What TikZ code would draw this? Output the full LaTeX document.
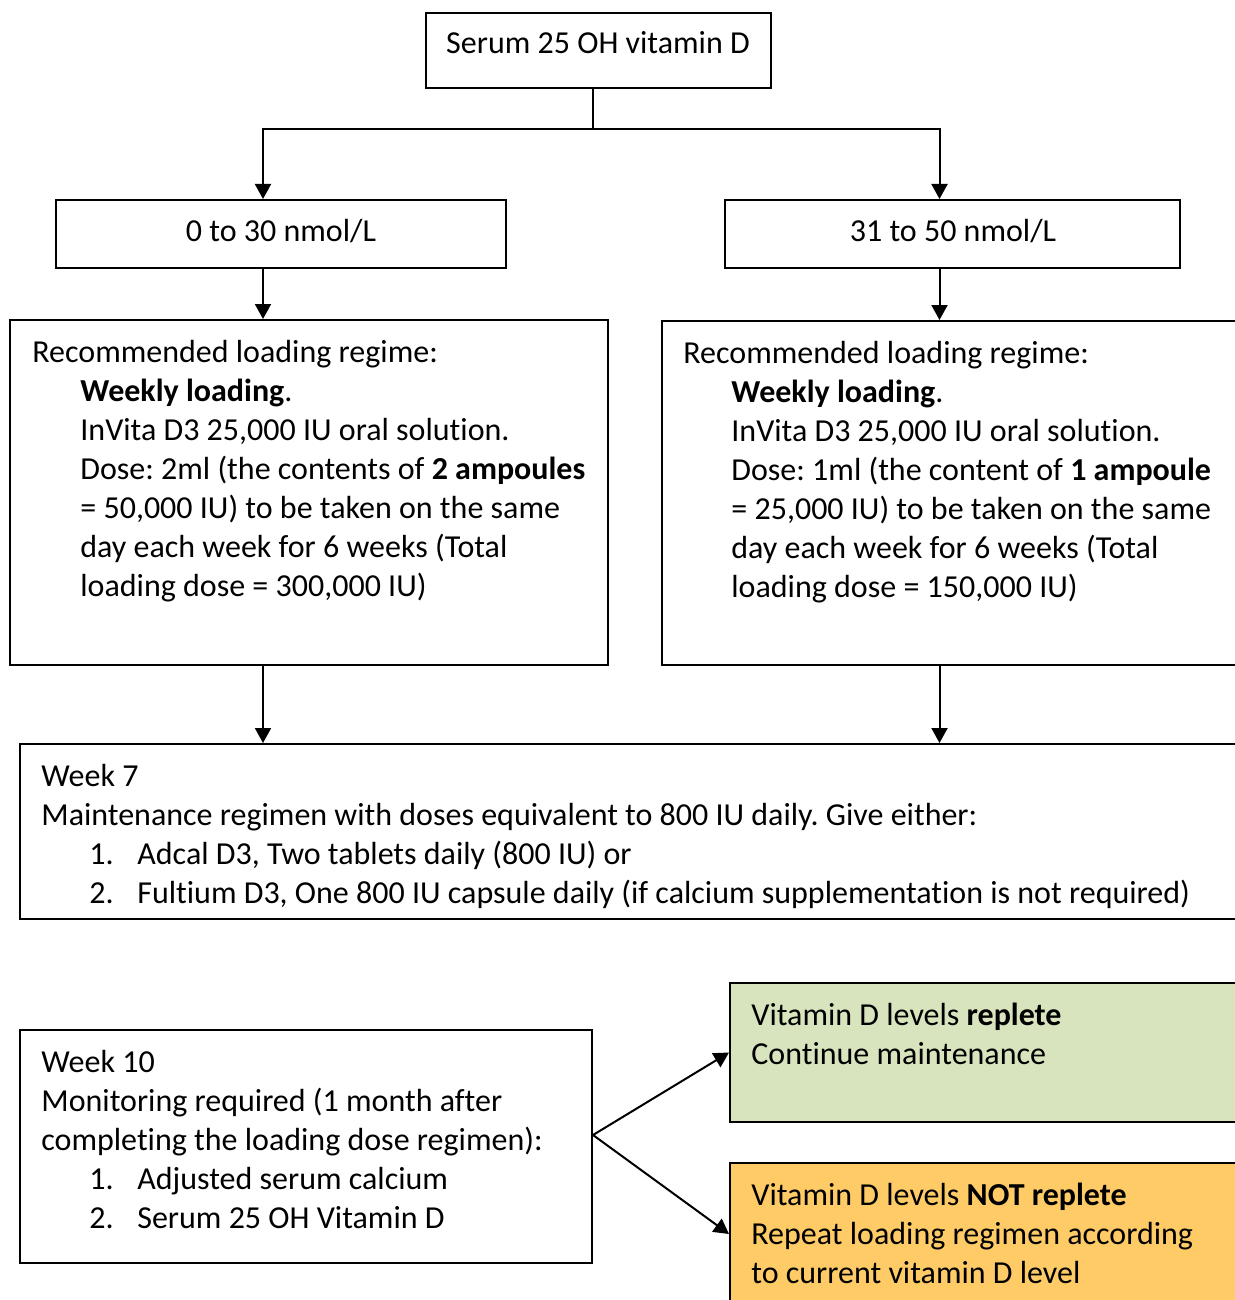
\documentclass[tikz,border=0pt]{standalone}
\usepackage{fontspec}
\setmainfont{Carlito}[Ligatures=NoCommon]
\usetikzlibrary{fit, arrows.meta}

\definecolor{repleteGreen}{HTML}{D7E4BD}
\definecolor{notRepleteOrange}{HTML}{FECB66}

\newcommand{\ind}{\hspace*{24pt}}
\newcommand{\itm}[1]{\hspace*{24pt}\makebox[24pt][l]{#1}}
\frenchspacing

\begin{document}
\begin{tikzpicture}[
  x=0.5pt, y=-0.5pt,
  box/.style={draw, line width=1pt, inner sep=0pt},
  txt/.style={inner sep=0pt, align=left, anchor=north west, font=\fontsize{16}{19.5}\selectfont},
  arr/.style={-{Triangle[width=8pt,length=7.5pt]}, line width=1pt}
]
  \clip (0,0) rectangle (1235,1300);

  % boxes
  \node[box, fit={(426,13) (771,88)}] (top) {};
  \node[box, fit={(56,200) (506,268)}] (lowL) {};
  \node[box, fit={(725,200) (1180,268)}] (lowR) {};
  \node[box, fit={(10,320) (608,665)}] (regL) {};
  \node[box, fit={(662,321) (1245,665)}] (regR) {};
  \node[box, fit={(20,744) (1245,919)}] (week7) {};
  \node[box, fit={(20,1030) (592,1263)}] (week10) {};
  \node[box, fill=repleteGreen, fit={(730,983) (1245,1122)}] (replete) {};
  \node[box, fill=notRepleteOrange, fit={(730,1163) (1245,1305)}] (notReplete) {};

  % texts (top of strut = baseline - 27.3)
  \node[txt, anchor=base] (tTop) at (598,54) {Serum 25 OH vitamin D};
  \node[txt, anchor=base] (tLowL) at (281,242) {0 to 30 nmol/L};
  \node[txt, anchor=base] (tLowR) at (953,242) {31 to 50 nmol/L};
  \node[txt] (tRegL) at (32,334.7) {\strut Recommended loading regime:\\
    \ind\textbf{Weekly loading}.\\
    \ind InVita D3 25,000 IU oral solution.\\
    \ind Dose: 2ml (the contents of \textbf{2 ampoules}\\
    \ind = 50,000 IU) to be taken on the same\\
    \ind day each week for 6 weeks (Total\\
    \ind loading dose = 300,000 IU)};
  \node[txt] (tRegR) at (683,335.7) {\strut Recommended loading regime:\\
    \ind\textbf{Weekly loading}.\\
    \ind InVita D3 25,000 IU oral solution.\\
    \ind Dose: 1ml (the content of \textbf{1 ampoule}\\
    \ind = 25,000 IU) to be taken on the same\\
    \ind day each week for 6 weeks (Total\\
    \ind loading dose = 150,000 IU)};
  \node[txt] (tWeek7) at (41,758.7) {\strut Week 7\\
    Maintenance regimen with doses equivalent to 800 IU daily. Give either:\\
    \itm{1.}Adcal D3, Two tablets daily (800 IU) or\\
    \itm{2.}Fultium D3, One 800 IU capsule daily (if calcium supplementation is not required)};
  \node[txt] (tWeek10) at (41,1044.7) {\strut Week 10\\
    Monitoring required (1 month after\\
    completing the loading dose regimen):\\
    \itm{1.}Adjusted serum calcium\\
    \itm{2.}Serum 25 OH Vitamin D};
  \node[txt] (tReplete) at (751,997.7) {\strut Vitamin D levels \textbf{replete}\\
    Continue maintenance};
  \node[txt] (tNotReplete) at (751,1177.7) {\strut Vitamin D levels \textbf{NOT replete}\\
    Repeat loading regimen according\\
    to current vitamin D level};

  % connectors
  \coordinate (split) at ([xshift=-3pt]top.south |- 0,129);
  \draw[line width=1pt] ([xshift=-3pt]top.south) -- (split);
  \draw[arr] (split) -| ([xshift=-9pt]lowL.north);
  \draw[arr] (split) -| ([xshift=-6.5pt]lowR.north);
  \draw[arr] ([xshift=-9pt]lowL.south) -- ([xshift=-9pt]lowL.south |- regL.north);
  \draw[arr] ([xshift=-6.5pt]lowR.south) -- ([xshift=-6.5pt]lowR.south |- regR.north);
  \draw[arr] ([xshift=-23pt]regL.south) -- ([xshift=-23pt]regL.south |- week7.north);
  \draw[arr] ([xshift=-6.5pt]lowR.south |- regR.south) -- ([xshift=-6.5pt]lowR.south |- week7.north);
  \draw[arr] ([yshift=5.75pt]week10.east) -- (replete.west);
  \draw[arr] ([yshift=5.75pt]week10.east) -- (notReplete.west);
\end{tikzpicture}
\end{document}
